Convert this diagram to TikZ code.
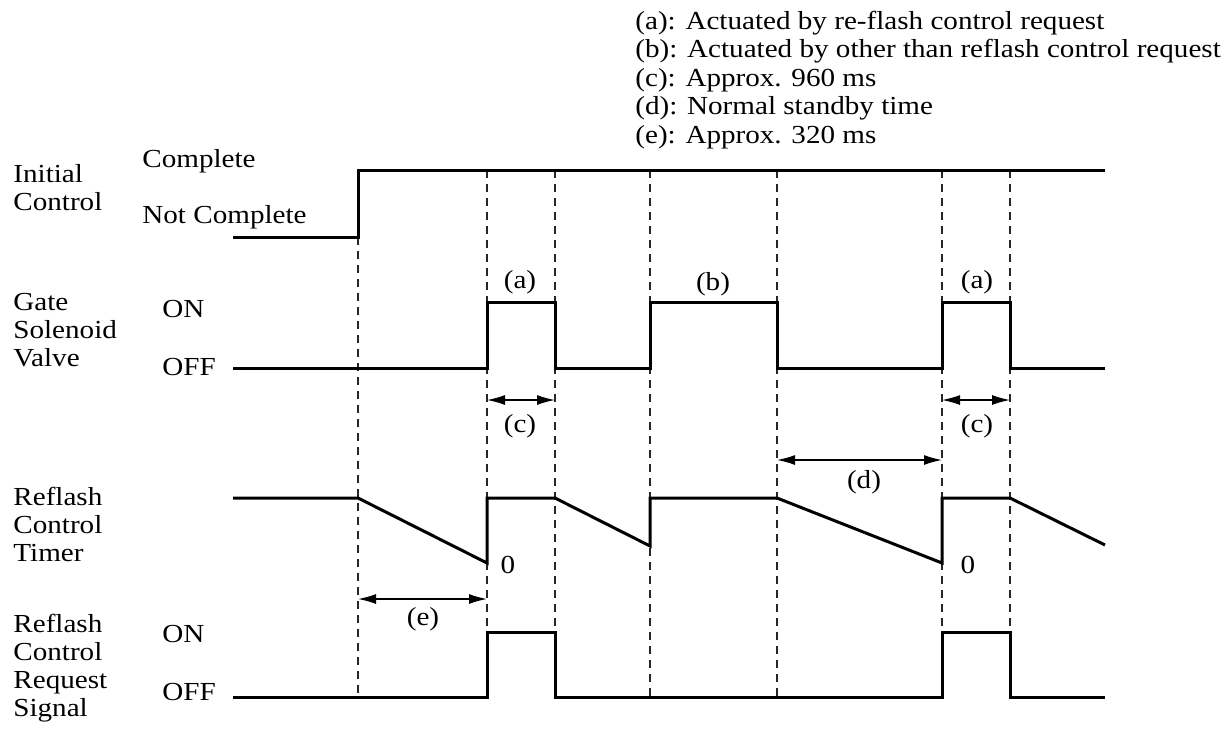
\documentclass[tikz,border=0pt]{standalone}
\usepackage{fontspec}
\setmainfont{Liberation Serif}[FakeStretch=1.12]
\usetikzlibrary{arrows.meta}

\tikzset{
  signal/.style={line width=1.5pt, line join=miter},
  guide/.style={line width=0.6pt, black!85, dash pattern=on 4pt off 3pt},
  span/.style={line width=0.7pt, {Latex[length=9pt,width=5pt]}-{Latex[length=9pt,width=5pt]}},
  lbl/.style={inner sep=0pt, font=\fontsize{13}{14}\selectfont},
}

\begin{document}
\begin{tikzpicture}[x=0.5pt, y=-0.5pt]
  \useasboundingbox (0,0) rectangle (1230,728);

  % legend
  \foreach \txt [count=\i from 0] in {{(a): Actuated by re-flash control request},
      {(b): Actuated by other than reflash control request},
      {(c): Approx. 960 ms}, {(d): Normal standby time}, {(e): Approx. 320 ms}}
    \node[lbl, anchor=base west] (key\i) at (635, {29+28.5*\i}) {\txt};

  % signal names
  \node[lbl, anchor=west, align=left] (initname) at (13,188) {Initial\\Control};
  \node[lbl, anchor=west, align=left] (gatename) at (13,330) {Gate\\Solenoid\\Valve};
  \node[lbl, anchor=west, align=left] (timername) at (13,524) {Reflash\\Control\\Timer};
  \node[lbl, anchor=west, align=left] (reqname) at (13,668) {Reflash\\Control\\Request\\Signal};

  \node[lbl, anchor=base west] (complete) at (142,167) {Complete};
  \node[lbl, anchor=base west] (notcomplete) at (142,223) {Not Complete};
  \node[lbl, anchor=base west] (gateon) at (162,317) {ON};
  \node[lbl, anchor=base west] (gateoff) at (162,375) {OFF};
  \node[lbl, anchor=base west] (reqon) at (162,642) {ON};
  \node[lbl, anchor=base west] (reqoff) at (162,700) {OFF};

  % time marks
  \draw[guide] (358,237) -- (358,697);
  \foreach \t in {487,555,650,777,942,1010}
    \draw[guide] (\t,170) -- (\t,697);

  % waveforms
  \draw[signal] (233,237) -- (358,237) -- (358,170) -- (1105,170);
  \draw[signal] (233,368) -- (487,368) -- (487,302) -- (555,302) -- (555,368)
    -- (650,368) -- (650,302) -- (777,302) -- (777,368) -- (942,368)
    -- (942,302) -- (1010,302) -- (1010,368) -- (1105,368);
  \draw[signal] (233,498) -- (358,498) -- (487,563) -- (487,498) -- (555,498)
    -- (650,546) -- (650,498) -- (777,498) -- (942,563) -- (942,498)
    -- (1010,498) -- (1105,545);
  \draw[signal] (233,697) -- (487,697) -- (487,632) -- (555,632) -- (555,697)
    -- (942,697) -- (942,632) -- (1010,632) -- (1010,697) -- (1105,697);

  % intervals
  \coordinate (c1l) at (487,400);  \coordinate (c1r) at (555,400);
  \coordinate (c2l) at (942,400);  \coordinate (c2r) at (1010,400);
  \coordinate (dl) at (777,460);   \coordinate (dr) at (942,460);
  \coordinate (el) at (358,599);   \coordinate (er) at (487,599);
  \draw[span] (c1l) -- (c1r);
  \draw[span] (c2l) -- (c2r);
  \draw[span] (dl) -- (dr);
  \draw[span] (el) -- (er);

  \node[lbl, anchor=base] (pulsea1) at (520,288) {(a)};
  \node[lbl, anchor=base] (pulseb) at (713,290) {(b)};
  \node[lbl, anchor=base] (pulsea2) at (977,288) {(a)};
  \node[lbl, anchor=base] (spanc1) at (520,432) {(c)};
  \node[lbl, anchor=base] (spanc2) at (977,432) {(c)};
  \node[lbl, anchor=base] (spand) at (864,488) {(d)};
  \node[lbl, anchor=base] (spane) at (423,625) {(e)};
  \node[lbl, anchor=base] (zero1) at (508,573) {0};
  \node[lbl, anchor=base] (zero2) at (968,573) {0};
\end{tikzpicture}
\end{document}
